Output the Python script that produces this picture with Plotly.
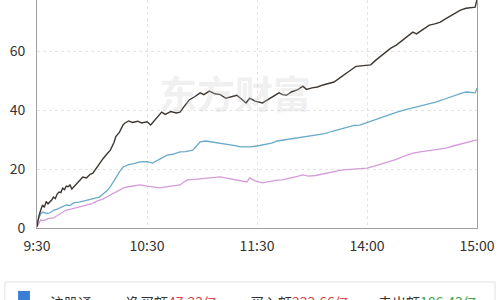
import plotly.graph_objects as go

# minutes since 9:30 (trading minutes, 240 total)
black_t = [0,1,2,3,4,5,6,7,8,9,10,11,12,13,14,15,16,17,18,19,20,22,24,25,27,29,30.5,32,34,36,38,40,42,43,45,47,48,50,52,55,57,60,62,64,66,68,70,73,76,78,80,83,86,89,91,94,97,100,103,106,109,112,114,116,119,123,126,129,132,134,136,139,142,145,147,150,153,156,159,162,165,168,171,174,176,179,182,185,188,191,193,196,199,202,205,207,209,212,214,217,220,223,226,229,231,234,237,239,240]
black_v = [0.5,4,6,7.8,7,9,8.2,8.8,9.5,10.5,10,11.5,12.2,12,13.5,13,14.2,14,14.6,13.2,13.9,15.5,16.8,17.3,17,18.2,18.6,20,22,23.5,25,26.4,29,31,32.5,35,35.6,36.3,35.8,36.2,35.6,36,34.9,36.5,38,39.3,38.5,39.5,39,39.3,41,43.4,44.5,45.8,45.2,46.4,45.5,45.2,44,44.5,45,43.5,42.4,44,43,42.4,43.5,44.5,45.8,45.2,45,46.2,46.8,48.1,47,47.5,47.8,48.5,49,49.5,50.8,52,53.5,54.8,54.9,55,55.3,57,58.5,60,61,62,63.5,65,66.4,65.8,66.6,68,68.8,69.2,69.8,71,72,73.2,73.9,74.5,74.6,74.9,77.5]

blue_t = [0,1,2,3,5,7,9,11,13,16,18,20,23,27,30,34,36,38,40,41.5,43,45,47,50,53,56,60,63,66,69,71,74,78,81,85,87,89,92,95,100,104,108,111,116,120,124,128,131,134,138,142,146,150,153,157,161,165,169,173,176,180,184,188,192,196,200,204,207,211,215,218,221,225,229,232,234.5,237,239,240]
blue_v = [1.7,3.5,4.8,5.4,5,5.1,6,6.4,7,7.8,7.6,8.5,8.8,9.5,9.8,10.5,11.5,12.5,14,15.3,17,19,20.7,21.5,21.8,22.4,22.5,22,23,24,24.7,25,25.8,25.9,26.4,27.8,29.2,29.5,29.2,28.8,28.5,27.9,27.5,27.5,27.8,28.3,28.8,29.5,29.8,30,30.5,31,31.2,31.5,32,32.8,33.5,34.2,34.8,34.9,35.8,36.7,37.5,38.3,39.2,40,40.6,41,41.5,42.2,42.8,43.4,44.3,45.2,45.8,46.1,45.8,45.8,47.5]

pink_t = [0,1,2,4,6,9,12,14,16,19,22,25,27,30,33,36,38,41,44,47,49,52,56,60,64,67,71,75,78,80,82,86,90,93,97,100,104,108,111,114.5,116,119,123,127,131,134,138,142,145,148,152,156,160,164,167,171,175,180,184,188,192,196,200,205,209,213,218,223,227,231,235,238,240]
pink_v = [0.3,1.5,2.7,2.6,3.2,3.4,4.5,5.2,6.1,6.5,7,7.5,7.8,8.3,9.2,9.8,10.5,11.5,12.6,13.5,13.9,14.2,14.6,14.2,13.8,13.6,14,14.3,14.6,15.5,16.3,16.5,16.8,17,17.1,17.3,16.8,16.4,16,15.6,17,16,15.3,15.8,16.2,16.3,16.8,17.5,18,17.6,17.8,18.4,18.9,19.4,19.7,19.9,20.1,20.3,21,21.7,22.4,23.3,24.3,25.4,25.8,26.2,26.7,27.1,27.8,28.5,29.2,29.6,29.9]

tick_vals = [0, 60, 120, 180, 240]
tick_text = ["9:30", "10:30", "11:30", "14:00", "15:00"]

legend_name = "沪股通"
net_label, net_value = "净买额", "47.23亿"
buy_label, buy_value = "买入额", "233.66亿"
sell_label, sell_value = "卖出额", "186.43亿"

fig = go.Figure()
fig.add_trace(go.Scatter(x=pink_t, y=pink_v, mode="lines",
                         line=dict(color="#d49cd8", width=1.3), hoverinfo="skip"))
fig.add_trace(go.Scatter(x=blue_t, y=blue_v, mode="lines",
                         line=dict(color="#6aaac8", width=1.3), hoverinfo="skip"))
fig.add_trace(go.Scatter(x=black_t, y=black_v, mode="lines",
                         line=dict(color="#3f3832", width=1.4), hoverinfo="skip"))

font = "Noto Sans CJK SC, Roboto, sans-serif"

fig.update_layout(
    width=500, height=300,
    margin=dict(l=37, r=23, t=0, b=72),
    paper_bgcolor="white", plot_bgcolor="white",
    showlegend=False,
    font=dict(family=font, size=14, color="#333"),
    xaxis=dict(range=[0, 240], tickvals=tick_vals, ticktext=tick_text,
               showgrid=True, gridcolor="#e4e4e4", griddash="dot",
               showline=True, linecolor="#a0a0a0", linewidth=1,
               zeroline=False, ticks="outside", ticklen=5, tickcolor="rgba(0,0,0,0)",
               tickfont=dict(size=14, color="#333")),
    yaxis=dict(range=[0, 77.3], tickvals=[0, 20, 40, 60],
               showgrid=True, gridcolor="#e4e4e4", griddash="dot",
               showline=True, linecolor="#a0a0a0", linewidth=1, mirror=True,
               zeroline=False, ticks="outside", ticklen=8, tickcolor="rgba(0,0,0,0)",
               tickfont=dict(size=14, color="#333")),
)

# watermark
fig.add_annotation(x=0.45, y=0.6, xref="paper", yref="paper", text="<b>东方财富</b>",
                   showarrow=False, font=dict(size=38, color="rgba(205,205,205,0.3)", family=font))

# bottom info box
fig.add_shape(type="rect", xref="paper", yref="paper", x0=-0.073, x1=1.041, y0=-0.36, y1=-0.237,
              line=dict(color="#e2e2e2", width=1), fillcolor="white", layer="above")
fig.add_shape(type="rect", xref="paper", yref="paper", x0=-0.043, x1=-0.016, y0=-0.34, y1=-0.276,
              line=dict(width=0), fillcolor="#3a7fd5", layer="above")

def px_x(p):
    return (p - 37) / 440.0

top_y = -(290 - 228) / 228.0
fig.add_annotation(x=px_x(48), y=top_y, xref="paper", yref="paper", xanchor="left", yanchor="top",
                   text=legend_name, showarrow=False, font=dict(size=14, color="#333"))
fig.add_annotation(x=px_x(124), y=top_y, xref="paper", yref="paper", xanchor="left", yanchor="top",
                   text=f"{net_label}<span style='color:#e0454a'>{net_value}</span>",
                   showarrow=False, font=dict(size=14, color="#333"))
fig.add_annotation(x=px_x(248), y=top_y, xref="paper", yref="paper", xanchor="left", yanchor="top",
                   text=f"{buy_label}<span style='color:#e0454a'>{buy_value}</span>",
                   showarrow=False, font=dict(size=14, color="#333"))
fig.add_annotation(x=px_x(376), y=top_y, xref="paper", yref="paper", xanchor="left", yanchor="top",
                   text=f"{sell_label}<span style='color:#3aa545'>{sell_value}</span>",
                   showarrow=False, font=dict(size=14, color="#333"))

fig.write_html("out.html")
